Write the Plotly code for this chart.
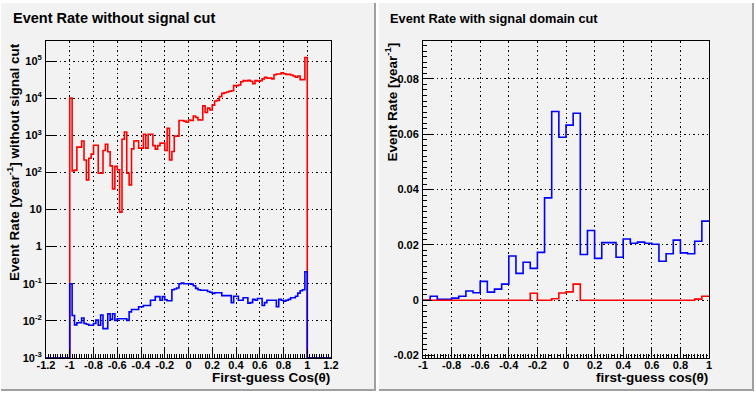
import plotly.graph_objects as go

# ---------------- data ----------------
# Left panel: 100 bins of first-guess cos(theta) from -1 to 1
left_lo, left_hi, left_nbins = -1.0, 1.0, 100
red_left = [
    1.0e4, 110, 115, 480, 480, 700, 215, 63, 240, 310,
    540, 540, 95, 95, 390, 575, 360, 150, 36, 145,
    118, 8.5, 780, 1230, 95, 46, 430, 700, 710, 450,
    450, 1070, 450, 1070, 1070, 525, 425, 525, 615, 615,
    390, 1550, 217, 365, 950, 950, 2500, 2500, 2400, 2240,
    2570, 2500, 3300, 3000, 2600, 2570, 6200, 4100, 5400, 4800,
    6500, 8400, 8700, 11000, 13500, 14000, 14700, 15300, 15900, 21700,
    21700, 22600, 27800, 29600, 29000, 30400, 28500, 24600, 29600, 28500,
    29600, 33000, 36500, 34300, 35000, 33000, 42900, 44700, 44700, 48600,
    45600, 43800, 43800, 42000, 39500, 36500, 39500, 31500, 31500, 125000,
]
blue_left = [
    0.1, 0.014, 0.0078, 0.0089, 0.009, 0.012, 0.0085, 0.0081, 0.0076, 0.0076,
    0.0085, 0.0105, 0.0076, 0.0144, 0.0062, 0.0062, 0.0155, 0.011, 0.0155, 0.0103,
    0.0114, 0.0114, 0.0114, 0.0114, 0.0103, 0.0175, 0.0203, 0.0203, 0.0203, 0.024,
    0.024, 0.026, 0.026, 0.026, 0.036, 0.036, 0.045, 0.045, 0.036, 0.045,
    0.037, 0.035, 0.035, 0.069, 0.072, 0.077, 0.1, 0.105, 0.1, 0.1,
    0.1, 0.098, 0.088, 0.075, 0.069, 0.067, 0.067, 0.067, 0.062, 0.059,
    0.055, 0.057, 0.057, 0.057, 0.048, 0.048, 0.048, 0.048, 0.031, 0.046,
    0.046, 0.036, 0.036, 0.042, 0.042, 0.030, 0.031, 0.038, 0.036, 0.040,
    0.040, 0.026, 0.031, 0.036, 0.036, 0.036, 0.036, 0.024, 0.038, 0.036,
    0.034, 0.036, 0.038, 0.042, 0.042, 0.046, 0.056, 0.065, 0.069, 0.21,
]
left_xmin, left_xmax = -1.2, 1.2
left_floor = 1e-3
left_xtick_vals = [-1.2, -1.0, -0.8, -0.6, -0.4, -0.2, 0.0, 0.2, 0.4, 0.6, 0.8, 1.0, 1.2]
left_xtick_text = ["-1.2", "-1", "-0.8", "-0.6", "-0.4", "-0.2", "0", "0.2", "0.4", "0.6", "0.8", "1", "1.2"]
left_ytick_vals = [1e-3, 1e-2, 1e-1, 1, 10, 1e2, 1e3, 1e4, 1e5]
left_ytick_text = ["10<sup>-3</sup>", "10<sup>-2</sup>", "10<sup>-1</sup>", "1", "10",
                   "10<sup>2</sup>", "10<sup>3</sup>", "10<sup>4</sup>", "10<sup>5</sup>"]

# Right panel: 40 bins from -1 to 1
right_lo, right_hi, right_nbins = -1.0, 1.0, 40
blue_right = [
    0.0, 0.00145, 0.00036, 0.00036, 0.00073, 0.00145, 0.0033, 0.0027, 0.0068, 0.0029,
    0.0040, 0.0058, 0.0160, 0.0097, 0.0137, 0.0115, 0.0173, 0.0370, 0.0682, 0.0589,
    0.0633, 0.0676, 0.0165, 0.0252, 0.0151, 0.0208, 0.0208, 0.0155, 0.0221, 0.0206,
    0.0210, 0.0206, 0.0202, 0.0141, 0.0168, 0.0217, 0.0171, 0.0168, 0.0213, 0.0286,
]
red_right = [
    0, 0, 0, 0, 0, 0, 0, 0, 0, 0,
    0, 0, 0, 0, 0, 0.0025, 0, 0, 0.0005, 0.0026,
    0.0030, 0.0058, 0, 0, 0, 0, 0, 0, 0, 0,
    0, 0, 0, 0, 0, 0, 0, 0, 0.0004, 0.0014,
]
right_xtick_vals = [-1.0, -0.8, -0.6, -0.4, -0.2, 0.0, 0.2, 0.4, 0.6, 0.8, 1.0]
right_xtick_text = ["-1", "-0.8", "-0.6", "-0.4", "-0.2", "0", "0.2", "0.4", "0.6", "0.8", "1"]
right_ytick_vals = [-0.02, 0.0, 0.02, 0.04, 0.06, 0.08]
right_ytick_text = ["-0.02", "0", "0.02", "0.04", "0.06", "0.08"]

# ---------------- helpers ----------------
W, H = 756, 394
def px(x):
    return x / W
def py(y):
    return 1 - y / H

def edges(lo, hi, n):
    return [lo + (hi - lo) * i / n for i in range(n + 1)]

le = edges(left_lo, left_hi, left_nbins)
re_ = edges(right_lo, right_hi, right_nbins)

def left_step(vals):
    xs = [left_xmin] + le + [left_xmax]
    ys = [left_floor] + list(vals) + [left_floor, left_floor]
    return xs, ys

def right_step(vals):
    return re_, list(vals) + [vals[-1]]

FONT = "Liberation Sans"
LW = 1.6

fig = go.Figure()
x, y = left_step(red_left)
fig.add_trace(go.Scatter(x=x, y=y, mode="lines", line=dict(color="#ff0000", width=LW, shape="hv"),
                         xaxis="x", yaxis="y", showlegend=False, hoverinfo="skip"))
x, y = left_step(blue_left)
fig.add_trace(go.Scatter(x=x, y=y, mode="lines", line=dict(color="#0000ff", width=LW, shape="hv"),
                         xaxis="x", yaxis="y", showlegend=False, hoverinfo="skip"))
x, y = right_step(blue_right)
fig.add_trace(go.Scatter(x=x, y=y, mode="lines", line=dict(color="#0000ff", width=LW, shape="hv"),
                         xaxis="x2", yaxis="y2", showlegend=False, hoverinfo="skip"))
x, y = right_step(red_right)
fig.add_trace(go.Scatter(x=x, y=y, mode="lines", line=dict(color="#ff0000", width=LW, shape="hv"),
                         xaxis="x2", yaxis="y2", showlegend=False, hoverinfo="skip"))

tickfont = dict(family=FONT, size=11, color="black", weight="bold")
common = dict(showline=True, mirror=True, linecolor="black", linewidth=1,
              showgrid=True, gridcolor="black", griddash="1.5px,3px", gridwidth=1,
              zeroline=False, ticks="inside", ticklen=9, tickwidth=1, tickcolor="black",
              tickfont=tickfont, tickmode="array", automargin=False)
xcommon = dict(common, ticklabelstandoff=-3)
ycommon = dict(common, ticklabelstandoff=1)

ydom = [py(358), py(41)]
fig.update_layout(
    width=W, height=H, margin=dict(l=0, r=0, t=0, b=0, autoexpand=False),
    paper_bgcolor="white", plot_bgcolor="#f2f2f2", hovermode=False,
    xaxis=dict(domain=[px(46), px(331)], range=[left_xmin, left_xmax], anchor="y",
               tickvals=left_xtick_vals, ticktext=left_xtick_text,
               minor=dict(tickmode="linear", tick0=-1.2, dtick=0.02, ticks="inside",
                          ticklen=4, tickcolor="black", showgrid=False), **xcommon),
    yaxis=dict(domain=ydom, type="log", range=[-3, 5.54], anchor="x",
               tickvals=left_ytick_vals, ticktext=left_ytick_text, **ycommon),
    xaxis2=dict(domain=[px(423), px(709)], range=[-1, 1], anchor="y2",
                tickvals=right_xtick_vals, ticktext=right_xtick_text,
                minor=dict(tickmode="linear", tick0=-1, dtick=0.02, ticks="inside",
                           ticklen=4, tickcolor="black", showgrid=False), **xcommon),
    yaxis2=dict(domain=ydom, range=[-0.0209, 0.0937], anchor="x2",
                tickvals=right_ytick_vals, ticktext=right_ytick_text,
                minor=dict(tickmode="linear", tick0=0, dtick=0.002, ticks="inside",
                           ticklen=4, tickcolor="black", showgrid=False), **ycommon),
)

# pads (ROOT-like canvas pads with bevel border)
shapes = []
for x0, x1 in [(1, 376), (379, 754)]:
    shapes.append(dict(type="rect", xref="paper", yref="paper", layer="below",
                       x0=px(x0), x1=px(x1), y0=py(391), y1=py(3),
                       fillcolor="#f2f2f2", line=dict(width=0)))
    shapes.append(dict(type="line", xref="paper", yref="paper", layer="below",
                       x0=px(x1 - 1), x1=px(x1 - 1), y0=py(391), y1=py(3),
                       line=dict(color="#a0a0a0", width=2)))
    shapes.append(dict(type="line", xref="paper", yref="paper", layer="below",
                       x0=px(x0), x1=px(x1), y0=py(390), y1=py(390),
                       line=dict(color="#a0a0a0", width=2)))
fig.update_layout(shapes=shapes)

def ann(text, x, y, size, xanchor="left", yanchor="middle", angle=0):
    fig.add_annotation(text=text, xref="paper", yref="paper", x=x, y=y,
                       xanchor=xanchor, yanchor=yanchor, textangle=angle, showarrow=False,
                       font=dict(family=FONT, size=size, color="black", weight="bold"))

ann("Event Rate without signal cut", px(11), py(18), 14.5)
ann("Event Rate with signal domain cut", px(388), py(18), 12.8)
ann("First-guess Cos(θ)", px(332), py(377), 13.5, xanchor="right")
ann("first-guess cos(θ)", px(710), py(377), 13.5, xanchor="right")
ann("Event Rate [year<sup>-1</sup>] without signal cut", px(13), py(41), 13.5,
    xanchor="center", yanchor="top", angle=-90)
ann("Event Rate [year<sup>-1</sup>]", px(391), py(41), 13.5,
    xanchor="center", yanchor="top", angle=-90)

fig.write_html("out.html", config={"displayModeBar": False},
               post_script="document.body.style.margin='0px';")
